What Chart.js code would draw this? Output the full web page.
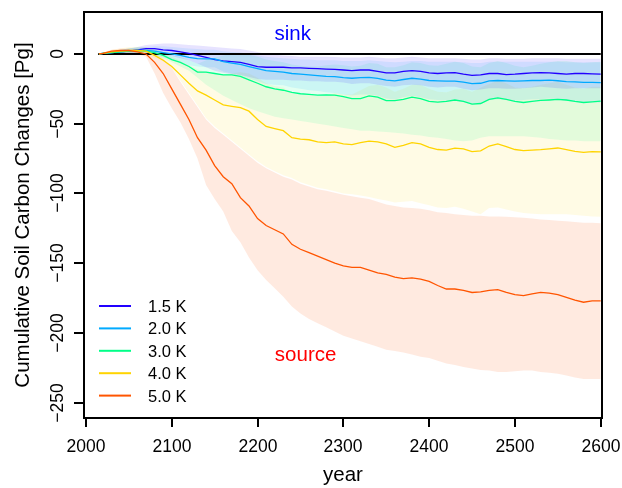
<!DOCTYPE html>
<html>
<head>
<meta charset="utf-8">
<script src="https://cdn.jsdelivr.net/npm/chart.js@4"></script>
<style>
  html, body { margin: 0; padding: 0; background: #fff; }
  #wrap { width: 622px; height: 488px; }
</style>
</head>
<body>
<div id="wrap"><canvas id="myChart" width="622" height="488"></canvas></div>
<script>
// years of the sampled points (2015, then every 10 years)
const years = [2015, 2020, 2030, 2040, 2050, 2060, 2070, 2080, 2090, 2100,
  2110, 2120, 2130, 2140, 2150, 2160, 2170, 2180, 2190, 2200,
  2210, 2220, 2230, 2240, 2250, 2260, 2270, 2280, 2290, 2300,
  2310, 2320, 2330, 2340, 2350, 2360, 2370, 2380, 2390, 2400,
  2410, 2420, 2430, 2440, 2450, 2460, 2470, 2480, 2490, 2500,
  2510, 2520, 2530, 2540, 2550, 2560, 2570, 2580, 2590, 2600];

const names = ['1.5 K', '2.0 K', '3.0 K', '4.0 K', '5.0 K'];

// 1.5 K
const k15 = [0, 0.5, 1, 1.5, 2, 3, 3.8, 3.8, 3, 2.5,
  1.5, 0.5, -1, -2.5, -4, -5, -5.5, -6, -7.5, -9,
  -9.5, -9.5, -9.5, -10, -10, -10.3, -10.5, -10.8, -11, -11.5,
  -12, -11.5, -11.5, -12.5, -13.5, -13.5, -12.5, -12, -12.5, -13.5,
  -14, -13.5, -13.3, -14.5, -15.3, -15, -14, -14, -14.8, -14.5,
  -14, -13.5, -13.3, -13.5, -14, -14.5, -14, -14, -14.3, -14.5];
const k15_up = [0, 1, 2, 3, 4, 5, 6.5, 7, 7.5, 7.5,
  7, 6.5, 6, 5.5, 5, 4.5, 4, 3.5, 2.5, 1.5,
  0, -0.5, -1, -1.5, -2, -2, -2, -2, -2.2, -2.5,
  -2.5, -2.5, -2, -2.5, -3, -3, -2.5, -2, -2.5, -3,
  -3, -3, -3, -3.5, -4, -4, -3, -3, -3.5, -3.5,
  -3.5, -3, -3, -3, -3, -3.5, -3.5, -3.5, -3.5, -3.5];
const k15_lo = [0, 0, 0, 0, 0, 1, 1.5, 1, -0.5, -1.5,
  -3, -4.5, -7, -9.5, -12, -13.5, -14.5, -15, -16.5, -18,
  -18.5, -18.5, -18.5, -19, -19, -19.5, -19.5, -20, -20, -20.5,
  -21.5, -21, -21, -22, -23, -23.5, -22.5, -22, -22.5, -23.5,
  -24, -23.5, -23.5, -25, -26, -25.5, -24.5, -24.5, -25, -25,
  -24.5, -24, -23.5, -24, -24.5, -25, -24.5, -24.5, -24.5, -24.5];

// 2.0 K
const k20 = [0, 0.5, 1, 1.5, 2, 2.5, 2.5, 2, 1, 0,
  -1, -2.5, -3.3, -3.5, -3.5, -5.5, -6.5, -7.5, -9, -10.5,
  -12, -12.5, -13, -14, -14.5, -15, -15.5, -16, -16.3, -17,
  -17.4, -17, -16.8, -17.5, -18.8, -19.3, -18.3, -17.4, -18, -19,
  -19.3, -19.5, -19.5, -20.2, -21.2, -21, -19.3, -19, -19.3, -19.5,
  -19.3, -19, -19, -18.8, -19.2, -19.8, -20, -20.3, -20.3, -20.5];
const k20_up = [0, 1, 2, 3, 4, 4.5, 5, 5.5, 5.5, 5,
  4.5, 4, 3.5, 3, 3, 2, 1.5, 1, 0, -1,
  -2, -2.5, -3, -3.5, -4, -4, -4.5, -4.5, -4.5, -5,
  -5, -5, -4.5, -5, -5.5, -6, -5.5, -5, -5, -5.5,
  -5.5, -5.5, -5.5, -6, -6.5, -6.5, -5.5, -5.5, -5.5, -5.5,
  -5.5, -5.5, -5.5, -5.5, -5.5, -6, -6, -6, -6, -6];
const k20_lo = [0, 0, 0, 0, 0, 0.5, 0, -1, -2.5, -4,
  -5.5, -8, -9, -9.5, -9.5, -12.5, -14, -15.5, -17.5, -19.5,
  -21.5, -22, -22.5, -24, -25, -26, -26.5, -27.5, -28, -29,
  -29.8, -29, -29, -30, -32, -32.6, -31, -30, -31, -32.5,
  -33, -33.5, -33.5, -34.5, -36, -35.5, -33, -32.5, -33, -33.5,
  -33, -32.5, -32.5, -32, -33, -33.5, -34, -34.5, -34.5, -35];

// 3.0 K
const k30 = [0, 0.5, 1, 1.5, 2, 2.5, 2, 1, -1, -4,
  -6, -9, -13, -13, -14, -15, -15, -16, -18.5, -21,
  -23.5, -25, -26, -27.5, -28.5, -29, -29.5, -29.3, -29.5, -30.5,
  -32, -32, -30, -31, -33.5, -33.5, -32.5, -31, -32, -34,
  -34.5, -34, -33, -34, -36, -35.5, -32.5, -31.5, -32.5, -34,
  -34.8, -34, -33.3, -33, -32.6, -33, -34, -34.8, -34.3, -33.8];
const k30_up = [0, 1, 2, 3, 4, 5, 4.5, 3.5, 1.5, -1,
  -2, -4.5, -7, -4.5, -2.5, -1, 0, 0.5, -0.5, -2,
  -4, -5, -6, -7.5, -8.5, -9, -9, -8, -7.5, -8,
  -9, -8.5, -6.5, -7, -9.5, -9.5, -8, -6, -6.5, -8,
  -8.5, -7, -5.5, -6.5, -9, -9.5, -6.5, -5, -6.5, -8.5,
  -9.5, -8.5, -7, -6, -5, -5, -6, -6.5, -6, -5.5];
const k30_lo = [0, 0, 0, 0, 0, 0, 0, -1, -3, -6,
  -9, -12, -17, -22, -26, -30, -33, -36, -39, -41,
  -43, -45, -46, -47, -48, -49, -50, -51, -52, -53,
  -54, -55, -55, -55.5, -56, -56.5, -57, -58, -58.5, -59.5,
  -60, -61, -62, -62.5, -62, -60, -59, -59, -59, -59,
  -59, -59.5, -60, -61, -61.5, -62, -62, -62.5, -62.5, -62.6];

// 4.0 K
const k40 = [0, 0.5, 1.5, 2, 2.5, 2.5, 2, -1, -4.5, -9,
  -15, -21, -26.5, -29.5, -33, -36.5, -37.5, -38.5, -41, -47,
  -52, -53.5, -55, -60, -61, -61.5, -63, -63.5, -63, -64.5,
  -65, -63.5, -62.5, -63, -64.5, -67, -65.5, -63.5, -64.5, -67,
  -68.5, -69, -67.5, -68, -70, -69.5, -66, -64.5, -66.5, -68.5,
  -69.3, -69, -68.6, -68, -67.4, -68.5, -69.8, -70.5, -70, -70.2];
const k40_up = [0, 1, 3, 4, 5, 5, 5, 3, 1, -2,
  -5, -8, -11, -13, -14, -15, -14, -13, -14, -17,
  -21, -23, -24, -28, -29, -29, -30, -30, -28, -29,
  -29, -26, -23, -22, -24, -27, -25, -22, -22, -25,
  -27, -27.5, -25.5, -25, -27, -24, -21.5, -19, -21, -24,
  -24.5, -23.5, -22, -21, -20, -22, -24, -25, -23.5, -23.5];
const k40_lo = [0, 0, 0, 0, 0, 0, -1, -3, -5, -10,
  -19, -28, -37, -46, -52, -57, -62, -67, -72, -77,
  -81, -84, -87, -89, -92, -94, -96, -97, -98.5, -100,
  -100.5, -101.5, -102.5, -104, -105, -106.5, -106, -105.5, -107, -108.5,
  -110, -110.5, -109.5, -111, -113, -115, -110.5, -110, -111.5, -113,
  -114, -114.5, -115, -115, -115, -115, -115.5, -116, -116.5, -116.7];

// 5.0 K
const k50 = [0, 0.5, 2, 2.5, 2.5, 1.5, 0, -6, -14, -25,
  -36, -47, -60, -69, -80, -88, -93, -103, -109, -118,
  -123, -126, -129, -136.5, -140, -142.5, -145, -147.5, -150, -152,
  -153, -153, -155, -157, -158, -160, -161, -160.5, -161.5, -163,
  -166, -168.5, -168.5, -169.5, -171, -170.5, -169.5, -169, -171, -172.5,
  -173.3, -172, -171, -171.5, -172.5, -174.5, -176.5, -178, -177, -177];
const k50_up = [0, 1, 3, 4, 4, 3, 2, 0, -3, -10,
  -20, -29, -38, -47, -53, -58, -63, -68, -73, -78,
  -82, -85, -88, -90, -93, -95, -97, -98, -99.5, -101,
  -102, -103, -104, -106, -108, -109, -110, -110.5, -111, -112,
  -113.5, -114, -115, -115.5, -116, -116, -116.5, -116.5, -116.7, -117,
  -117.5, -118, -118.6, -119, -119.5, -120, -120.5, -121, -121, -121.4];
const k50_lo = [0, 0, 0, 0, 0, 0, -2, -14, -28, -39,
  -49, -61, -75, -94, -104, -113, -127, -135, -146, -155,
  -162, -168, -174, -181, -186, -190, -193, -196, -199, -202,
  -204, -206, -208, -210, -212, -213, -214, -215.5, -217, -218,
  -220, -222, -223, -224.5, -225.5, -226.5, -227, -228, -228, -227.5,
  -227, -227, -228, -228.5, -229.3, -230.5, -232, -233, -233, -233];

// black zero line
const zeroYears = [2014, 2600];
const zeroVals = [0, 0];

const xTicks = [2000, 2100, 2200, 2300, 2400, 2500, 2600];
const yTicks = [0, -50, -100, -150, -200, -250];
const yTickLabels = ['0', '\u221250', '\u2212100', '\u2212150', '\u2212200', '\u2212250'];

// text annotations: [label, year, value]
const notes = [['sink', 2241, 14.3], ['source', 2256, -215.8]];

const lineColors = ['#2200ff', '#00aaff', '#00ff88', '#ffd400', '#ff5500'];
const bandColors = ['rgba(34,0,255,0.11)', 'rgba(0,170,255,0.11)', 'rgba(0,255,136,0.11)',
  'rgba(255,212,0,0.1)', 'rgba(255,85,0,0.12)'];
const noteColors = ['#0000ff', '#ff0000'];

const lines = [k15, k20, k30, k40, k50];
const uppers = [k15_up, k20_up, k30_up, k40_up, k50_up];
const lowers = [k15_lo, k20_lo, k30_lo, k40_lo, k50_lo];

function pts(xs, vals) {
  return xs.map((x, i) => ({x: x, y: vals[i]}));
}

const FONT = "'Liberation Sans', Arial, Helvetica, sans-serif";

let datasets = [];
// bands: 5 K first so it sits at the bottom
for (let i = 4; i >= 0; i--) {
  datasets.push({
    label: names[i] + ' upper', data: pts(years, uppers[i]),
    fill: '+1', backgroundColor: bandColors[i],
    borderColor: 'rgba(0,0,0,0)', borderWidth: 0, pointRadius: 0,
    order: 20 + i
  });
  datasets.push({
    label: names[i] + ' lower', data: pts(years, lowers[i]),
    fill: false, borderColor: 'rgba(0,0,0,0)', borderWidth: 0, pointRadius: 0,
    order: 20 + i
  });
}
datasets.push({
  label: 'zero', data: pts(zeroYears, zeroVals),
  borderColor: '#000', borderWidth: 2, pointRadius: 0, fill: false, order: 10
});
for (let i = 0; i < 5; i++) {
  datasets.push({
    label: names[i], data: pts(years, lines[i]),
    borderColor: lineColors[i], borderWidth: 1.3, pointRadius: 0,
    fill: false, tension: 0, order: 5 - i
  });
}

const rAxes = {
  id: 'rAxes',
  afterDraw(chart) {
    const ctx = chart.ctx;
    const a = chart.chartArea;
    const xs = chart.scales.x, ys = chart.scales.y;
    ctx.save();
    ctx.strokeStyle = '#000';
    ctx.lineWidth = 2;
    ctx.strokeRect(a.left, a.top, a.right - a.left, a.bottom - a.top);

    ctx.fillStyle = '#000';
    ctx.font = '17.5px ' + FONT;
    ctx.textAlign = 'center';
    ctx.textBaseline = 'alphabetic';
    for (const t of xTicks) {
      const px = Math.round(xs.getPixelForValue(t));
      ctx.beginPath();
      ctx.moveTo(px, a.bottom);
      ctx.lineTo(px, a.bottom + 9);
      ctx.stroke();
      ctx.fillText(String(t), px, 452);
    }
    yTicks.forEach((t, i) => {
      const py = Math.round(ys.getPixelForValue(t));
      ctx.beginPath();
      ctx.moveTo(a.left - 10, py);
      ctx.lineTo(a.left, py);
      ctx.stroke();
      ctx.save();
      ctx.translate(63, py);
      ctx.rotate(-Math.PI / 2);
      ctx.fillText(yTickLabels[i], 0, 0);
      ctx.restore();
    });

    ctx.font = '20.5px ' + FONT;
    ctx.fillText('year', (a.left + a.right) / 2, 480.5);
    ctx.save();
    ctx.translate(28.5, (a.top + a.bottom) / 2);
    ctx.rotate(-Math.PI / 2);
    ctx.fillText('Cumulative Soil Carbon Changes [Pg]', 0, 0);
    ctx.restore();

    notes.forEach((n, i) => {
      ctx.fillStyle = noteColors[i];
      ctx.textBaseline = 'middle';
      ctx.fillText(n[0], xs.getPixelForValue(n[1]), ys.getPixelForValue(n[2]));
    });

    // legend
    ctx.textAlign = 'left';
    ctx.textBaseline = 'alphabetic';
    ctx.font = '16.5px ' + FONT;
    names.forEach((nm, i) => {
      const ly = 306 + i * 22.4;
      ctx.strokeStyle = lineColors[i];
      ctx.lineWidth = 2;
      ctx.beginPath();
      ctx.moveTo(99, ly);
      ctx.lineTo(131, ly);
      ctx.stroke();
      ctx.fillStyle = '#000';
      ctx.fillText(nm, 148, ly + 6);
    });
    ctx.restore();
  }
};

const ctx = document.getElementById('myChart');

new Chart(ctx, {
  type: 'line',
  data: { datasets: datasets },
  options: {
    responsive: false,
    animation: false,
    layout: { padding: { left: 84, right: 20, top: 12, bottom: 70 } },
    scales: {
      x: { type: 'linear', min: 1997.7, max: 2601.5, display: false },
      y: { type: 'linear', min: -261, max: 30.1, display: false }
    },
    plugins: {
      legend: { display: false },
      tooltip: { enabled: false }
    }
  },
  plugins: [rAxes]
});
</script>
</body>
</html>
